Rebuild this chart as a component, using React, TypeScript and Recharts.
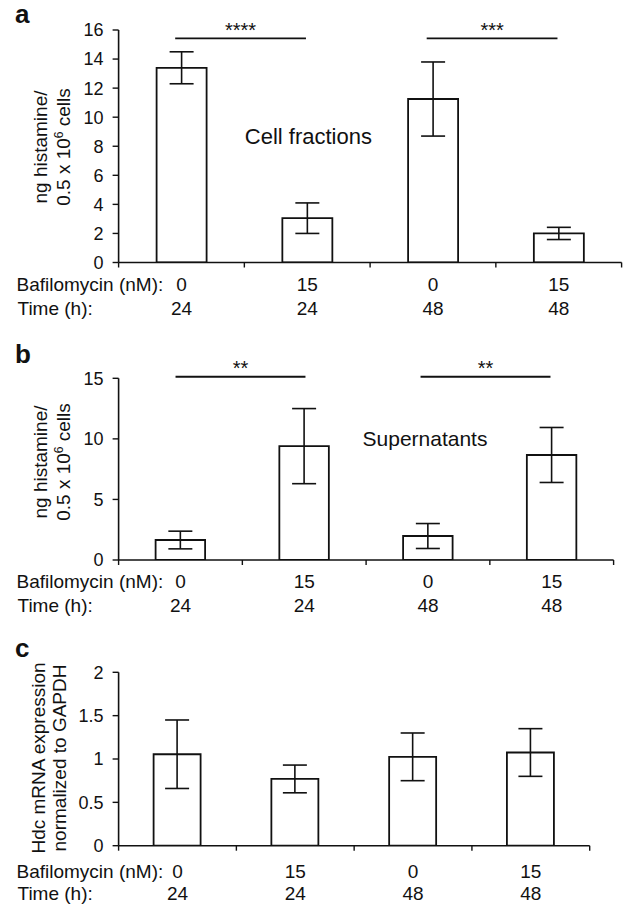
import React from "react";
import { BarChart, Bar, XAxis, YAxis, ErrorBar, ReferenceLine } from "recharts";

// categories (two label rows under each bar)
const doses = ["0", "15", "0", "15"];
const times = ["24", "24", "48", "48"];
// bar positions on the x scale (category centres) and the x ticks (edges + centres)
const positions = [0.5, 1.5, 2.5, 3.5];
const xTicks = [0, 0.5, 1, 1.5, 2, 2.5, 3, 3.5, 4];

// panel a: cell fractions
const cellFractions = [13.4, 3.05, 11.25, 2.0];
const cellFractionsErr = [1.1, 1.05, 2.55, 0.42];
const ticksA = [0, 2, 4, 6, 8, 10, 12, 14, 16];
const sigA = [
  { from: 0.45, to: 1.49, y: 15.43, label: "****" },
  { from: 2.45, to: 3.49, y: 15.43, label: "***" },
];

// panel b: supernatants
const supernatants = [1.65, 9.4, 1.98, 8.67];
const supernatantsErr = [0.73, 3.1, 1.03, 2.27];
const ticksB = [0, 5, 10, 15];
const sigB = [
  { from: 0.46, to: 1.51, y: 15.13, label: "**" },
  { from: 2.44, to: 3.49, y: 15.13, label: "**" },
];

// panel c: Hdc mRNA
const hdc = [1.055, 0.77, 1.025, 1.075];
const hdcErr = [0.395, 0.16, 0.275, 0.275];
const ticksC = [0, 0.5, 1, 1.5, 2];

const FONT = '"Liberation Sans", Arial, sans-serif';
const INK = "#111";

const rows = (values: number[], errs: number[]) =>
  values.map((v, i) => ({ pos: positions[i], value: v, err: errs[i] }));

function CategoryTick(props: any) {
  const { x, y, payload, off1, off2 } = props;
  const v = payload.value as number;
  if (Number.isInteger(v)) {
    // category edge: small tick mark
    return <line x1={x} x2={x} y1={y} y2={y + 5} stroke={INK} strokeWidth={1.4} />;
  }
  const i = Math.floor(v);
  return (
    <g fontFamily={FONT} fontSize={19}>
      {i === 0 && (
        <>
          <text x={16.5} y={y + off1} fill={INK}>Bafilomycin (nM):</text>
          <text x={17.5} y={y + off2} fill={INK}>Time (h):</text>
        </>
      )}
      <text x={x} y={y + off1} textAnchor="middle" fill={INK}>{doses[i]}</text>
      <text x={x} y={y + off2} textAnchor="middle" fill={INK}>{times[i]}</text>
    </g>
  );
}

interface PanelProps {
  top: number;
  height: number;
  margin: { top: number; right: number; bottom: number; left: number };
  values: number[];
  errs: number[];
  ticks: number[];
  barSize: number;
  sig?: { from: number; to: number; y: number; label: string }[];
  off1: number;
  off2: number;
}

function Panel({ top, height, margin, values, errs, ticks, barSize, sig = [], off1, off2 }: PanelProps) {
  const data = rows(values, errs);
  const max = ticks[ticks.length - 1];
  return (
    <div style={{ position: "absolute", left: 0, top, width: 624, height }}>
      <BarChart width={624} height={height} data={data} margin={margin} style={{ overflow: "visible" }}>
        <XAxis
          dataKey="pos"
          type="number"
          domain={[0, 4]}
          ticks={xTicks}
          interval={0}
          allowDataOverflow
          height={2}
          tickSize={0}
          tickMargin={0}
          axisLine={{ stroke: INK, strokeWidth: 1.6 }}
          tickLine={false}
          tick={<CategoryTick off1={off1} off2={off2} />}
        />
        <YAxis
          width={118.6}
          domain={[0, max]}
          ticks={ticks}
          allowDataOverflow
          tickSize={6}
          tickMargin={9}
          axisLine={{ stroke: INK, strokeWidth: 1.6 }}
          tickLine={{ stroke: INK, strokeWidth: 1.4 }}
          tick={{ fontSize: 18, fill: INK, fontFamily: FONT }}
        />
        <Bar
          dataKey="value"
          barSize={barSize}
          fill="#fff"
          stroke={INK}
          strokeWidth={1.8}
          isAnimationActive={false}
        >
          <ErrorBar dataKey="err" width={12} stroke={INK} strokeWidth={1.6} />
        </Bar>
        {sig.map((s, i) => (
          <ReferenceLine
            key={i}
            ifOverflow="visible"
            segment={[
              { x: s.from, y: s.y },
              { x: s.to, y: s.y },
            ]}
            stroke={INK}
            strokeWidth={1.8}
            label={{ value: s.label, position: "top", offset: 1.5, fontSize: 20, fill: INK, fontFamily: FONT }}
          />
        ))}
      </BarChart>
    </div>
  );
}

export default function App() {
  return (
    <div
      style={{
        position: "absolute",
        left: 0,
        top: 0,
        width: 624,
        height: 904,
        background: "#fff",
        fontFamily: FONT,
      }}
    >
      <Panel
        top={0}
        height={330}
        margin={{ top: 30, right: 2.4, bottom: 65.5, left: 0 }}
        values={cellFractions}
        errs={cellFractionsErr}
        ticks={ticksA}
        barSize={50}
        sig={sigA}
        off1={28.5}
        off2={52.5}
      />
      <Panel
        top={300}
        height={330}
        margin={{ top: 78.3, right: 10.4, bottom: 68, left: 0 }}
        values={supernatants}
        errs={supernatantsErr}
        ticks={ticksB}
        barSize={49.5}
        sig={sigB}
        off1={28.3}
        off2={52}
      />
      <Panel
        top={600}
        height={304}
        margin={{ top: 72.3, right: 34.3, bottom: 56.3, left: 0 }}
        values={hdc}
        errs={hdcErr}
        ticks={ticksC}
        barSize={47}
        off1={32.6}
        off2={54.3}
      />
      <svg
        width={624}
        height={904}
        style={{ position: "absolute", left: 0, top: 0, pointerEvents: "none" }}
        fontFamily={FONT}
        fill={INK}
      >
        <text x={15} y={23} fontSize={26} fontWeight="bold">a</text>
        <text x={15} y={363} fontSize={26} fontWeight="bold">b</text>
        <text x={15} y={657} fontSize={26} fontWeight="bold">c</text>

        <text x={308.4} y={144} fontSize={22} textAnchor="middle">Cell fractions</text>
        <text x={425} y={446} fontSize={21} textAnchor="middle">Supernatants</text>

        <g transform="translate(47,147) rotate(-90)" fontSize={19}>
          <text x={0} y={0} textAnchor="middle">ng histamine/</text>
          <text x={0} y={22.7} textAnchor="middle">
            0.5 x 10<tspan dy={-7} fontSize={12}>6</tspan>
            <tspan dy={7}> cells</tspan>
          </text>
        </g>
        <g transform="translate(47,462) rotate(-90)" fontSize={19}>
          <text x={0} y={0} textAnchor="middle">ng histamine/</text>
          <text x={0} y={22.7} textAnchor="middle">
            0.5 x 10<tspan dy={-7} fontSize={12}>6</tspan>
            <tspan dy={7}> cells</tspan>
          </text>
        </g>
        <g transform="translate(45,758) rotate(-90)" fontSize={19}>
          <text x={0} y={0} textAnchor="middle">Hdc mRNA expression</text>
          <text x={0} y={21} textAnchor="middle">normalized to GAPDH</text>
        </g>
      </svg>
    </div>
  );
}
